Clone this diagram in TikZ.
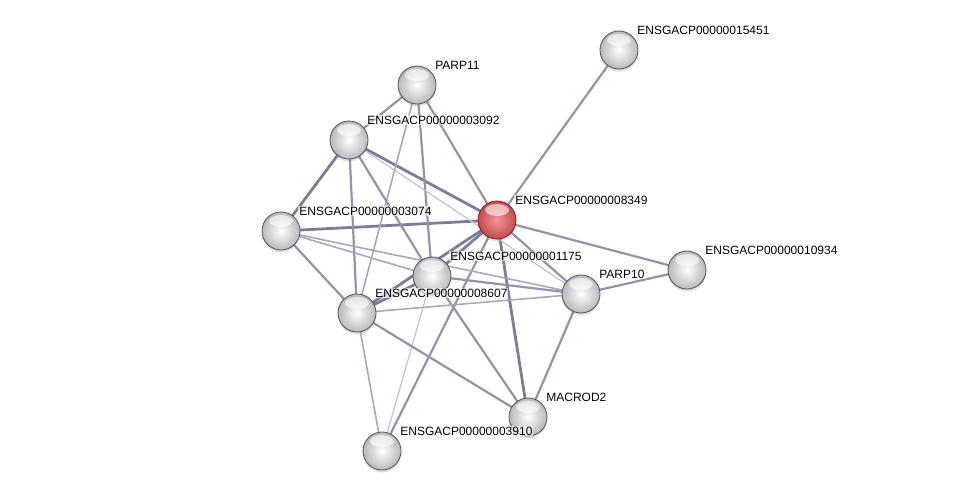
\documentclass[tikz,border=0pt]{standalone}
\usepackage{fontspec}
\setmainfont{Liberation Sans}
\usetikzlibrary{backgrounds,shadows}

\begin{document}
\begin{tikzpicture}[x=1pt,y=-1pt,
    prot/.style={circle, minimum size=38pt, inner sep=0pt, draw=gray!65!black, line width=0.8pt,
      inner color=white, outer color=gray!55,
      drop shadow={opacity=0.25, shadow xshift=0pt, shadow yshift=-2.5pt},
      path picture={\fill[white,opacity=0.6] ([yshift=-9pt]path picture bounding box.north) ellipse (12pt and 6pt);}},
    query/.style={prot, draw={rgb,255:red,140;green,30;blue,30},
      inner color={rgb,255:red,245;green,150;blue,150}, outer color={rgb,255:red,195;green,75;blue,75}},
    lbl/.style={font=\fontsize{12}{14}\selectfont, inner sep=1pt, label distance=3pt,
      fill=white, fill opacity=0.6, text opacity=1},
    strong/.style={draw={rgb,255:red,122;green,126;blue,152}, line width=2.8pt},
    medium/.style={draw={rgb,255:red,145;green,148;blue,172}, line width=2.2pt},
    weak/.style={draw={rgb,255:red,166;green,169;blue,190}, line width=1.6pt},
    faint/.style={draw={rgb,255:red,192;green,195;blue,212}, line width=1.2pt}]
        \useasboundingbox (0,0) rectangle (976,496);
        \node[prot, label={[lbl]40:ENSGACP00000015451}] (p15451) at (619,50) {};
        \node[prot, label={[lbl]40:PARP11}] (parp11) at (417,85) {};
        \node[prot, label={[lbl]40:ENSGACP00000003092}] (p3092) at (349,140) {};
        \node[query, label={[lbl]40:ENSGACP00000008349}] (p8349) at (497,220) {};
        \node[prot, label={[lbl]40:ENSGACP00000003074}] (p3074) at (281,231) {};
        \node[prot, label={[lbl]40:ENSGACP00000010934}] (p10934) at (687,270) {};
        \node[prot, label={[lbl]40:ENSGACP00000001175}] (p1175) at (432,276) {};
        \node[prot, label={[lbl]40:PARP10}] (parp10) at (581,294) {};
        \node[prot, label={[lbl]40:ENSGACP00000008607}] (p8607) at (357,313) {};
        \node[prot, label={[lbl]40:MACROD2}] (macrod2) at (528,417) {};
        \node[prot, label={[lbl]40:ENSGACP00000003910}] (p3910) at (382,451) {};
        \begin{pgfonlayer}{background}
        \fill[white] (0,0) rectangle (976,496);
        \draw[medium] (p8349.center) -- (p15451.center);
        \draw[medium] (p8349.center) -- (parp11.center);
        \draw[strong] (p8349.center) -- (p3092.center);
        \draw[strong] (p8349.center) -- (p3074.center);
        \draw[medium] (p8349.center) -- (p10934.center);
        \draw[medium] (p8349.center) -- (parp10.center);
        \draw[strong] (p8349.center) -- (p1175.center);
        \draw[strong] (p8349.center) -- (p8607.center);
        \draw[strong] (p8349.center) -- (macrod2.center);
        \draw[medium] (p8349.center) -- (p3910.center);
        \draw[medium] (parp11.center) -- (p3092.center);
        \draw[medium] (parp11.center) -- (p1175.center);
        \draw[weak] (parp11.center) -- (p8607.center);
        \draw[strong] (p3092.center) -- (p3074.center);
        \draw[medium] (p3092.center) -- (p8607.center);
        \draw[medium] (p3092.center) -- (p1175.center);
        \draw[faint] (p3092.center) -- (parp10.center);
        \draw[medium] (p3074.center) -- (p8607.center);
        \draw[weak] (p3074.center) -- (p1175.center);
        \draw[weak] (p3074.center) -- (parp10.center);
        \draw[strong] (p1175.center) -- (p8607.center);
        \draw[medium] (p1175.center) -- (parp10.center);
        \draw[medium] (p1175.center) -- (macrod2.center);
        \draw[faint] (p1175.center) -- (p3910.center);
        \draw[weak] (p8607.center) -- (parp10.center);
        \draw[medium] (p8607.center) -- (macrod2.center);
        \draw[weak] (p8607.center) -- (p3910.center);
        \draw[medium] (parp10.center) -- (p10934.center);
        \draw[medium] (parp10.center) -- (macrod2.center);
        \end{pgfonlayer}
    \end{tikzpicture}
\end{document}
